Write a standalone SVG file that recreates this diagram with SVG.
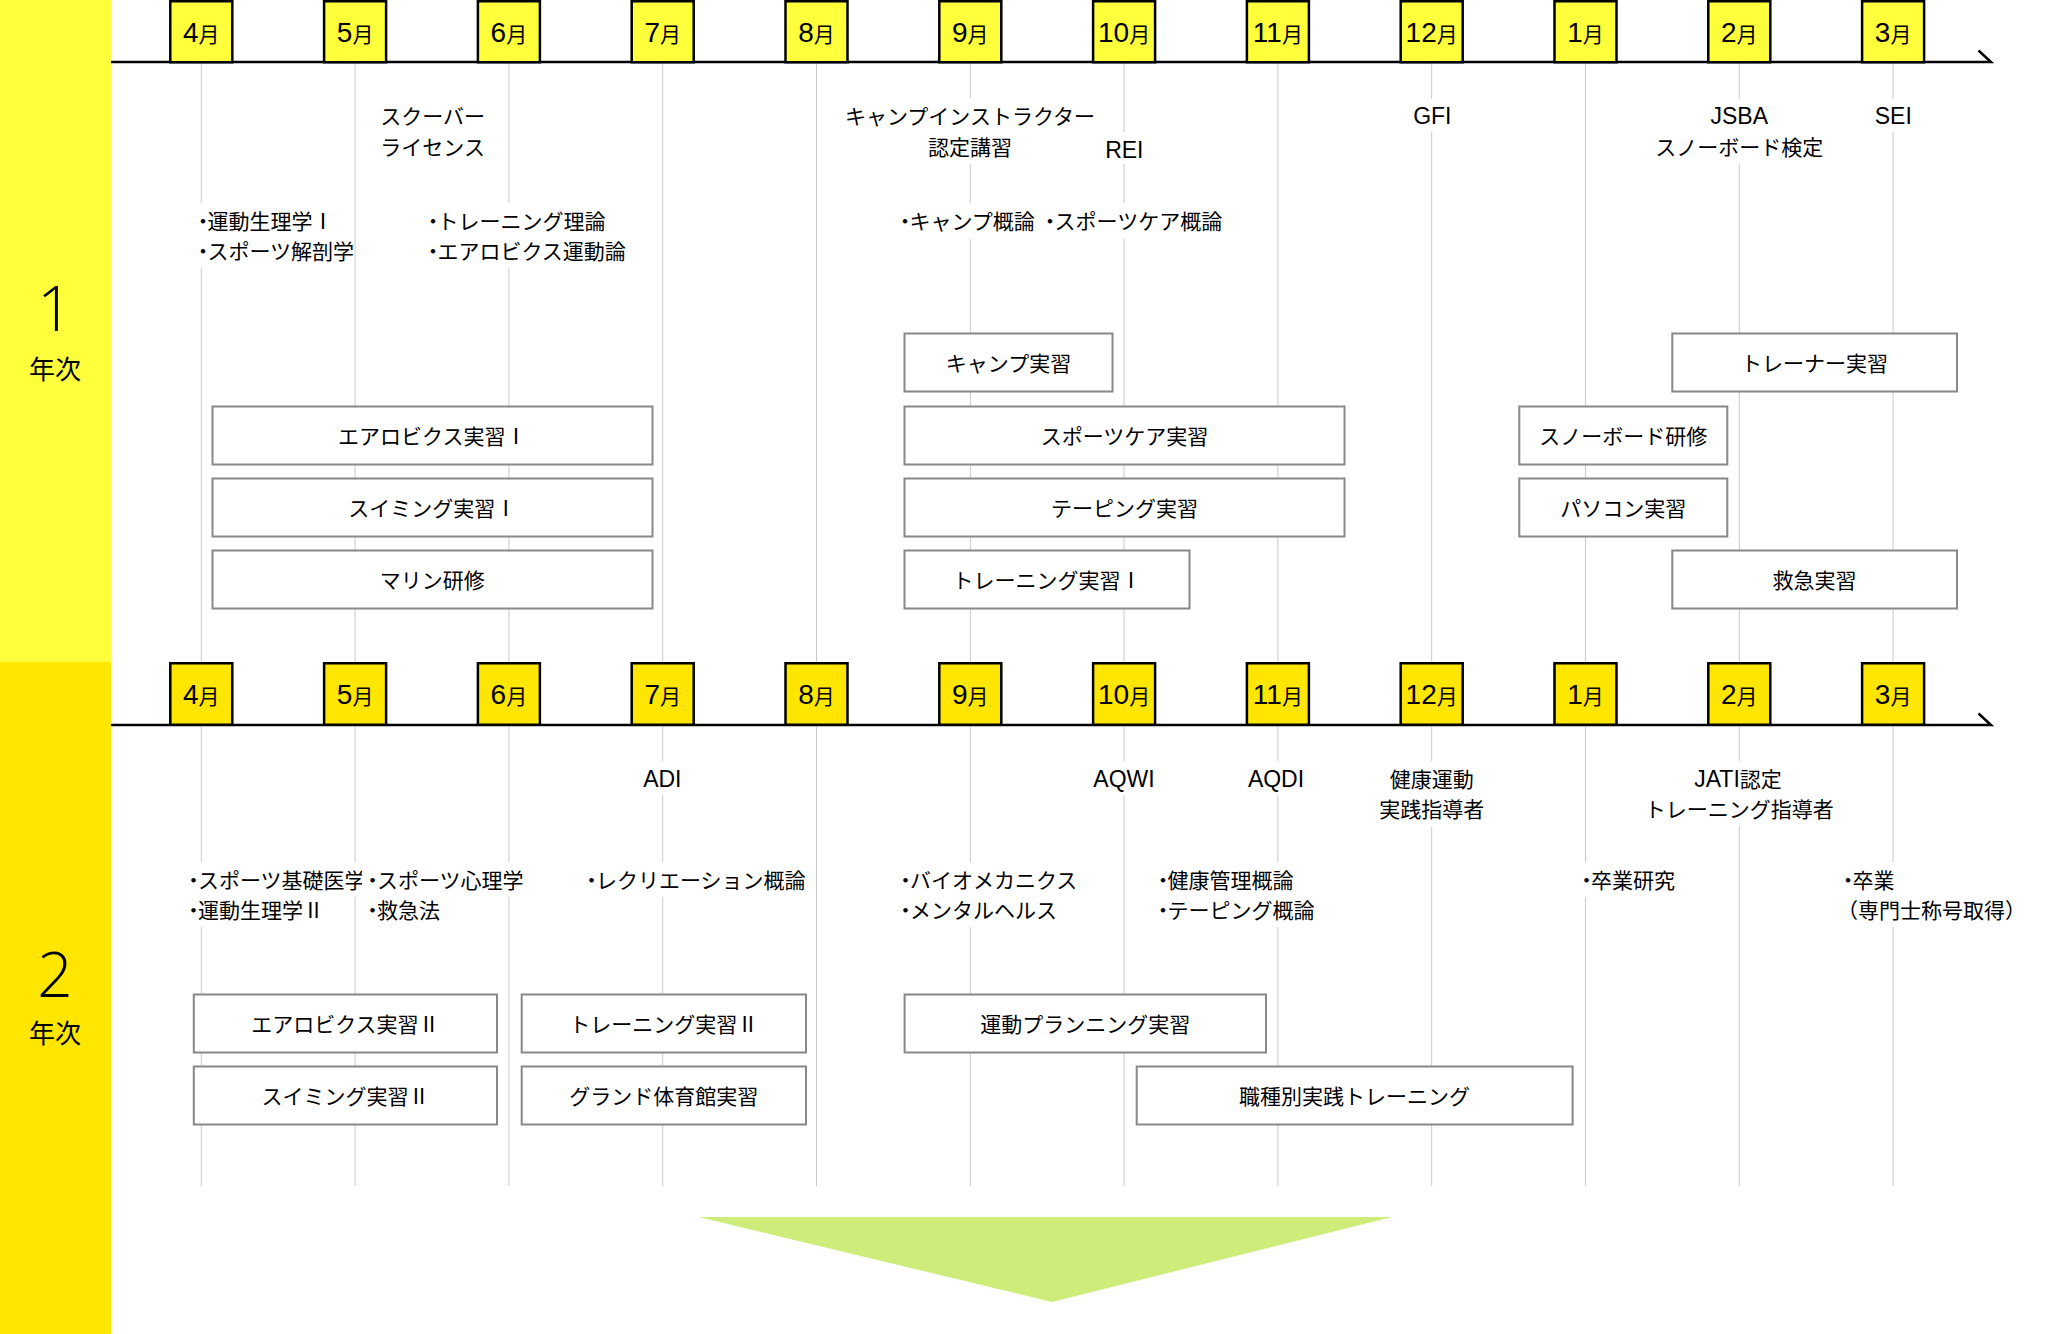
<svg xmlns="http://www.w3.org/2000/svg" width="2072" height="1334" viewBox="0 0 2072 1334">
<style>
.band1{fill:#ffff3c}
.band2{fill:#ffe600}
.mb1{fill:#ffff3c;stroke:#000;stroke-width:2.5}
.mb2{fill:#ffe600;stroke:#000;stroke-width:2.5}
.tl{stroke:#000;stroke-width:2.5;fill:none}
.grid{stroke:#cacaca;stroke-width:1;fill:none}
.box{fill:#fff;stroke:#888;stroke-width:2}
.bg{fill:#fff}
text{font-family:"Noto Sans CJK JP","Noto Sans CJK SC",sans-serif;font-size:21px;fill:#000}
.c{text-anchor:middle}
.lat{font-family:"Liberation Sans",Arial,sans-serif;font-size:23px}
.num{font-family:"Liberation Sans",Arial,sans-serif;font-size:28px}
.dot{letter-spacing:-6px}
.big{font-family:"Open Sans","Liberation Sans",sans-serif;font-weight:300;font-size:62px}
.yr{font-size:26px}
.arrow{fill:#cdec7a}
</style>

<!-- side bands -->
<rect class="band1" x="0" y="0" width="111" height="662"/>
<rect class="band2" x="0" y="662" width="111" height="672"/>
<g id="year1"><text class="big c" x="55" y="331">1</text><text class="yr c" x="55" y="379">年次</text></g>
<g id="year2"><text class="big c" x="55" y="997">2</text><text class="yr c" x="55" y="1043">年次</text></g>

<!-- connectors: grid, timelines, arrow -->
<g id="connectors">
  <g class="grid">
    <line x1="201.3" y1="63" x2="201.3" y2="1186"/>
    <line x1="355.1" y1="63" x2="355.1" y2="1186"/>
    <line x1="508.9" y1="63" x2="508.9" y2="1186"/>
    <line x1="662.7" y1="63" x2="662.7" y2="1186"/>
    <line x1="816.5" y1="63" x2="816.5" y2="1186"/>
    <line x1="970.3" y1="63" x2="970.3" y2="1186"/>
    <line x1="1124.1" y1="63" x2="1124.1" y2="1186"/>
    <line x1="1277.9" y1="63" x2="1277.9" y2="1186"/>
    <line x1="1431.7" y1="63" x2="1431.7" y2="1186"/>
    <line x1="1585.5" y1="63" x2="1585.5" y2="1186"/>
    <line x1="1739.3" y1="63" x2="1739.3" y2="1186"/>
    <line x1="1893.1" y1="63" x2="1893.1" y2="1186"/>
  </g>
  <path class="tl" d="M111 62 H1991 L1978.5 50.5"/>
  <path class="tl" d="M111 725 H1991 L1978.5 713.5"/>
  <polygon id="arrow" class="arrow" points="699,1217 1392,1217 1052,1302"/>
</g>

<!-- month boxes row 1 -->
<g id="m1-4"><rect class="mb1" x="170.3" y="1.25" width="62" height="61"/><text class="c" x="201.3" y="42"><tspan class="num">4</tspan>月</text></g>
<g id="m1-5"><rect class="mb1" x="324.1" y="1.25" width="62" height="61"/><text class="c" x="355.1" y="42"><tspan class="num">5</tspan>月</text></g>
<g id="m1-6"><rect class="mb1" x="477.9" y="1.25" width="62" height="61"/><text class="c" x="508.9" y="42"><tspan class="num">6</tspan>月</text></g>
<g id="m1-7"><rect class="mb1" x="631.7" y="1.25" width="62" height="61"/><text class="c" x="662.7" y="42"><tspan class="num">7</tspan>月</text></g>
<g id="m1-8"><rect class="mb1" x="785.5" y="1.25" width="62" height="61"/><text class="c" x="816.5" y="42"><tspan class="num">8</tspan>月</text></g>
<g id="m1-9"><rect class="mb1" x="939.3" y="1.25" width="62" height="61"/><text class="c" x="970.3" y="42"><tspan class="num">9</tspan>月</text></g>
<g id="m1-10"><rect class="mb1" x="1093.1" y="1.25" width="62" height="61"/><text class="c" x="1124.1" y="42"><tspan class="num">10</tspan>月</text></g>
<g id="m1-11"><rect class="mb1" x="1246.9" y="1.25" width="62" height="61"/><text class="c" x="1277.9" y="42"><tspan class="num">11</tspan>月</text></g>
<g id="m1-12"><rect class="mb1" x="1400.7" y="1.25" width="62" height="61"/><text class="c" x="1431.7" y="42"><tspan class="num">12</tspan>月</text></g>
<g id="m1-1"><rect class="mb1" x="1554.5" y="1.25" width="62" height="61"/><text class="c" x="1585.5" y="42"><tspan class="num">1</tspan>月</text></g>
<g id="m1-2"><rect class="mb1" x="1708.3" y="1.25" width="62" height="61"/><text class="c" x="1739.3" y="42"><tspan class="num">2</tspan>月</text></g>
<g id="m1-3"><rect class="mb1" x="1862.1" y="1.25" width="62" height="61"/><text class="c" x="1893.1" y="42"><tspan class="num">3</tspan>月</text></g>

<!-- month boxes row 2 -->
<g id="m2-4"><rect class="mb2" x="170.3" y="663.25" width="62" height="61.5"/><text class="c" x="201.3" y="704"><tspan class="num">4</tspan>月</text></g>
<g id="m2-5"><rect class="mb2" x="324.1" y="663.25" width="62" height="61.5"/><text class="c" x="355.1" y="704"><tspan class="num">5</tspan>月</text></g>
<g id="m2-6"><rect class="mb2" x="477.9" y="663.25" width="62" height="61.5"/><text class="c" x="508.9" y="704"><tspan class="num">6</tspan>月</text></g>
<g id="m2-7"><rect class="mb2" x="631.7" y="663.25" width="62" height="61.5"/><text class="c" x="662.7" y="704"><tspan class="num">7</tspan>月</text></g>
<g id="m2-8"><rect class="mb2" x="785.5" y="663.25" width="62" height="61.5"/><text class="c" x="816.5" y="704"><tspan class="num">8</tspan>月</text></g>
<g id="m2-9"><rect class="mb2" x="939.3" y="663.25" width="62" height="61.5"/><text class="c" x="970.3" y="704"><tspan class="num">9</tspan>月</text></g>
<g id="m2-10"><rect class="mb2" x="1093.1" y="663.25" width="62" height="61.5"/><text class="c" x="1124.1" y="704"><tspan class="num">10</tspan>月</text></g>
<g id="m2-11"><rect class="mb2" x="1246.9" y="663.25" width="62" height="61.5"/><text class="c" x="1277.9" y="704"><tspan class="num">11</tspan>月</text></g>
<g id="m2-12"><rect class="mb2" x="1400.7" y="663.25" width="62" height="61.5"/><text class="c" x="1431.7" y="704"><tspan class="num">12</tspan>月</text></g>
<g id="m2-1"><rect class="mb2" x="1554.5" y="663.25" width="62" height="61.5"/><text class="c" x="1585.5" y="704"><tspan class="num">1</tspan>月</text></g>
<g id="m2-2"><rect class="mb2" x="1708.3" y="663.25" width="62" height="61.5"/><text class="c" x="1739.3" y="704"><tspan class="num">2</tspan>月</text></g>
<g id="m2-3"><rect class="mb2" x="1862.1" y="663.25" width="62" height="61.5"/><text class="c" x="1893.1" y="704"><tspan class="num">3</tspan>月</text></g>

<!-- row 1 certifications -->
<g id="cert-scuba"><rect class="bg" x="380" y="98" width="105" height="66"/><text class="c" x="432.6" y="124">スクーバー</text><text class="c" x="432.6" y="155">ライセンス</text></g>
<g id="cert-camp"><rect class="bg" x="843" y="98" width="254" height="35"/><rect class="bg" x="926" y="129" width="88" height="35"/><text class="c" x="970" y="124">キャンプインストラクター</text><text class="c" x="970" y="155">認定講習</text></g>
<g id="cert-rei"><rect class="bg" x="1104" y="132" width="41" height="32"/><text class="lat c" x="1124.3" y="158">REI</text></g>
<g id="cert-gfi"><rect class="bg" x="1411" y="99" width="42" height="33"/><text class="lat c" x="1432.3" y="124">GFI</text></g>
<g id="cert-jsba"><rect class="bg" x="1705" y="99" width="68" height="33"/><rect class="bg" x="1653" y="129" width="172" height="35"/><text class="lat c" x="1739.3" y="124">JSBA</text><text class="c" x="1739.3" y="155">スノーボード検定</text></g>
<g id="cert-sei"><rect class="bg" x="1873" y="99" width="40" height="33"/><text class="lat c" x="1893.3" y="124">SEI</text></g>

<!-- row 1 lectures -->
<g id="lec1-a"><rect class="bg" x="195" y="203" width="128" height="35"/><rect class="bg" x="195" y="233" width="158" height="35"/><text x="192.5" y="229"><tspan class="dot">・</tspan>運動生理学Ⅰ</text><text x="192.5" y="259"><tspan class="dot">・</tspan>スポーツ解剖学</text></g>
<g id="lec1-b"><rect class="bg" x="424" y="203" width="184" height="35"/><rect class="bg" x="424" y="233" width="204" height="35"/><text x="422.5" y="229"><tspan class="dot">・</tspan>トレーニング理論</text><text x="422.5" y="259"><tspan class="dot">・</tspan>エアロビクス運動論</text></g>
<g id="lec1-c"><rect class="bg" x="896" y="203" width="327" height="36"/><text x="894.5" y="229"><tspan class="dot">・</tspan>キャンプ概論 <tspan class="dot">・</tspan>スポーツケア概論</text></g>

<!-- row 1 practice boxes -->
<g id="p1-aerobics"><rect class="box" x="212.5" y="406.5" width="440" height="58"/><text class="c" x="432.3" y="444">エアロビクス実習Ⅰ</text></g>
<g id="p1-swim"><rect class="box" x="212.5" y="478.5" width="440" height="58"/><text class="c" x="432.3" y="516">スイミング実習Ⅰ</text></g>
<g id="p1-marine"><rect class="box" x="212.5" y="550.5" width="440" height="58"/><text class="c" x="432.3" y="588">マリン研修</text></g>
<g id="p1-camp"><rect class="box" x="904.5" y="333.5" width="208" height="58"/><text class="c" x="1008.5" y="371">キャンプ実習</text></g>
<g id="p1-sportscare"><rect class="box" x="904.5" y="406.5" width="440" height="58"/><text class="c" x="1124.5" y="444">スポーツケア実習</text></g>
<g id="p1-taping"><rect class="box" x="904.5" y="478.5" width="440" height="58"/><text class="c" x="1124.5" y="516">テーピング実習</text></g>
<g id="p1-training"><rect class="box" x="904.5" y="550.5" width="285" height="58"/><text class="c" x="1047" y="588">トレーニング実習Ⅰ</text></g>
<g id="p1-trainer"><rect class="box" x="1672.3" y="333.5" width="284.7" height="58"/><text class="c" x="1814.6" y="371">トレーナー実習</text></g>
<g id="p1-snowboard"><rect class="box" x="1519.3" y="406.5" width="208" height="58"/><text class="c" x="1623.3" y="444">スノーボード研修</text></g>
<g id="p1-pc"><rect class="box" x="1519.3" y="478.5" width="208" height="58"/><text class="c" x="1623.3" y="516">パソコン実習</text></g>
<g id="p1-firstaid"><rect class="box" x="1672.3" y="550.5" width="284.7" height="58"/><text class="c" x="1814.6" y="588">救急実習</text></g>

<!-- row 2 certifications -->
<g id="cert-adi"><rect class="bg" x="639" y="761" width="47" height="34"/><text class="lat c" x="662.3" y="787">ADI</text></g>
<g id="cert-aqwi"><rect class="bg" x="1090" y="761" width="68" height="34"/><text class="lat c" x="1124" y="787">AQWI</text></g>
<g id="cert-aqdi"><rect class="bg" x="1244" y="761" width="64" height="34"/><text class="lat c" x="1276" y="787">AQDI</text></g>
<g id="cert-kenko"><rect class="bg" x="1376" y="761" width="111" height="66"/><text class="c" x="1431.7" y="787">健康運動</text><text class="c" x="1431.7" y="817">実践指導者</text></g>
<g id="cert-jati"><rect class="bg" x="1689" y="761" width="98" height="34"/><rect class="bg" x="1642" y="791" width="194" height="35"/><text class="c" x="1738" y="787"><tspan class="lat">JATI</tspan>認定</text><text class="c" x="1739.3" y="817">トレーニング指導者</text></g>

<!-- row 2 lectures -->
<g id="lec2-a"><rect class="bg" x="186" y="862" width="174" height="35"/><rect class="bg" x="186" y="892" width="130" height="35"/><text x="183" y="888"><tspan class="dot">・</tspan>スポーツ基礎医学</text><text x="183" y="918"><tspan class="dot">・</tspan>運動生理学Ⅱ</text></g>
<g id="lec2-b"><rect class="bg" x="362" y="862" width="162" height="35"/><rect class="bg" x="362" y="892" width="78" height="35"/><text x="362" y="888"><tspan class="dot">・</tspan>スポーツ心理学</text><text x="362" y="918"><tspan class="dot">・</tspan>救急法</text></g>
<g id="lec2-c"><rect class="bg" x="583" y="862" width="224" height="35"/><text x="581" y="888"><tspan class="dot">・</tspan>レクリエーション概論</text></g>
<g id="lec2-d"><rect class="bg" x="897" y="862" width="182" height="35"/><rect class="bg" x="897" y="892" width="161" height="35"/><text x="895" y="888"><tspan class="dot">・</tspan>バイオメカニクス</text><text x="895" y="918"><tspan class="dot">・</tspan>メンタルヘルス</text></g>
<g id="lec2-e"><rect class="bg" x="1154" y="862" width="141" height="35"/><rect class="bg" x="1154" y="892" width="162" height="35"/><text x="1152.5" y="888"><tspan class="dot">・</tspan>健康管理概論</text><text x="1152.5" y="918"><tspan class="dot">・</tspan>テーピング概論</text></g>
<g id="lec2-f"><rect class="bg" x="1578" y="862" width="98" height="35"/><text x="1576" y="888"><tspan class="dot">・</tspan>卒業研究</text></g>
<g id="lec2-g"><rect class="bg" x="1839" y="862" width="60" height="35"/><rect class="bg" x="1839" y="892" width="188" height="35"/><text x="1837.5" y="888"><tspan class="dot">・</tspan>卒業</text><text x="1837" y="918">（専門士称号取得）</text></g>

<!-- row 2 practice boxes -->
<g id="p2-aerobics"><rect class="box" x="193.8" y="994.5" width="303.2" height="58"/><text class="c" x="345.4" y="1032">エアロビクス実習Ⅱ</text></g>
<g id="p2-swim"><rect class="box" x="193.8" y="1066.5" width="303.2" height="58"/><text class="c" x="345.4" y="1104">スイミング実習Ⅱ</text></g>
<g id="p2-training"><rect class="box" x="521.7" y="994.5" width="284.3" height="58"/><text class="c" x="663.8" y="1032">トレーニング実習Ⅱ</text></g>
<g id="p2-ground"><rect class="box" x="521.7" y="1066.5" width="284.3" height="58"/><text class="c" x="663.8" y="1104">グランド体育館実習</text></g>
<g id="p2-planning"><rect class="box" x="904.6" y="994.5" width="361.4" height="58"/><text class="c" x="1085.3" y="1032">運動プランニング実習</text></g>
<g id="p2-job"><rect class="box" x="1136.7" y="1066.5" width="435.9" height="58"/><text class="c" x="1354.6" y="1104">職種別実践トレーニング</text></g>
</svg>
